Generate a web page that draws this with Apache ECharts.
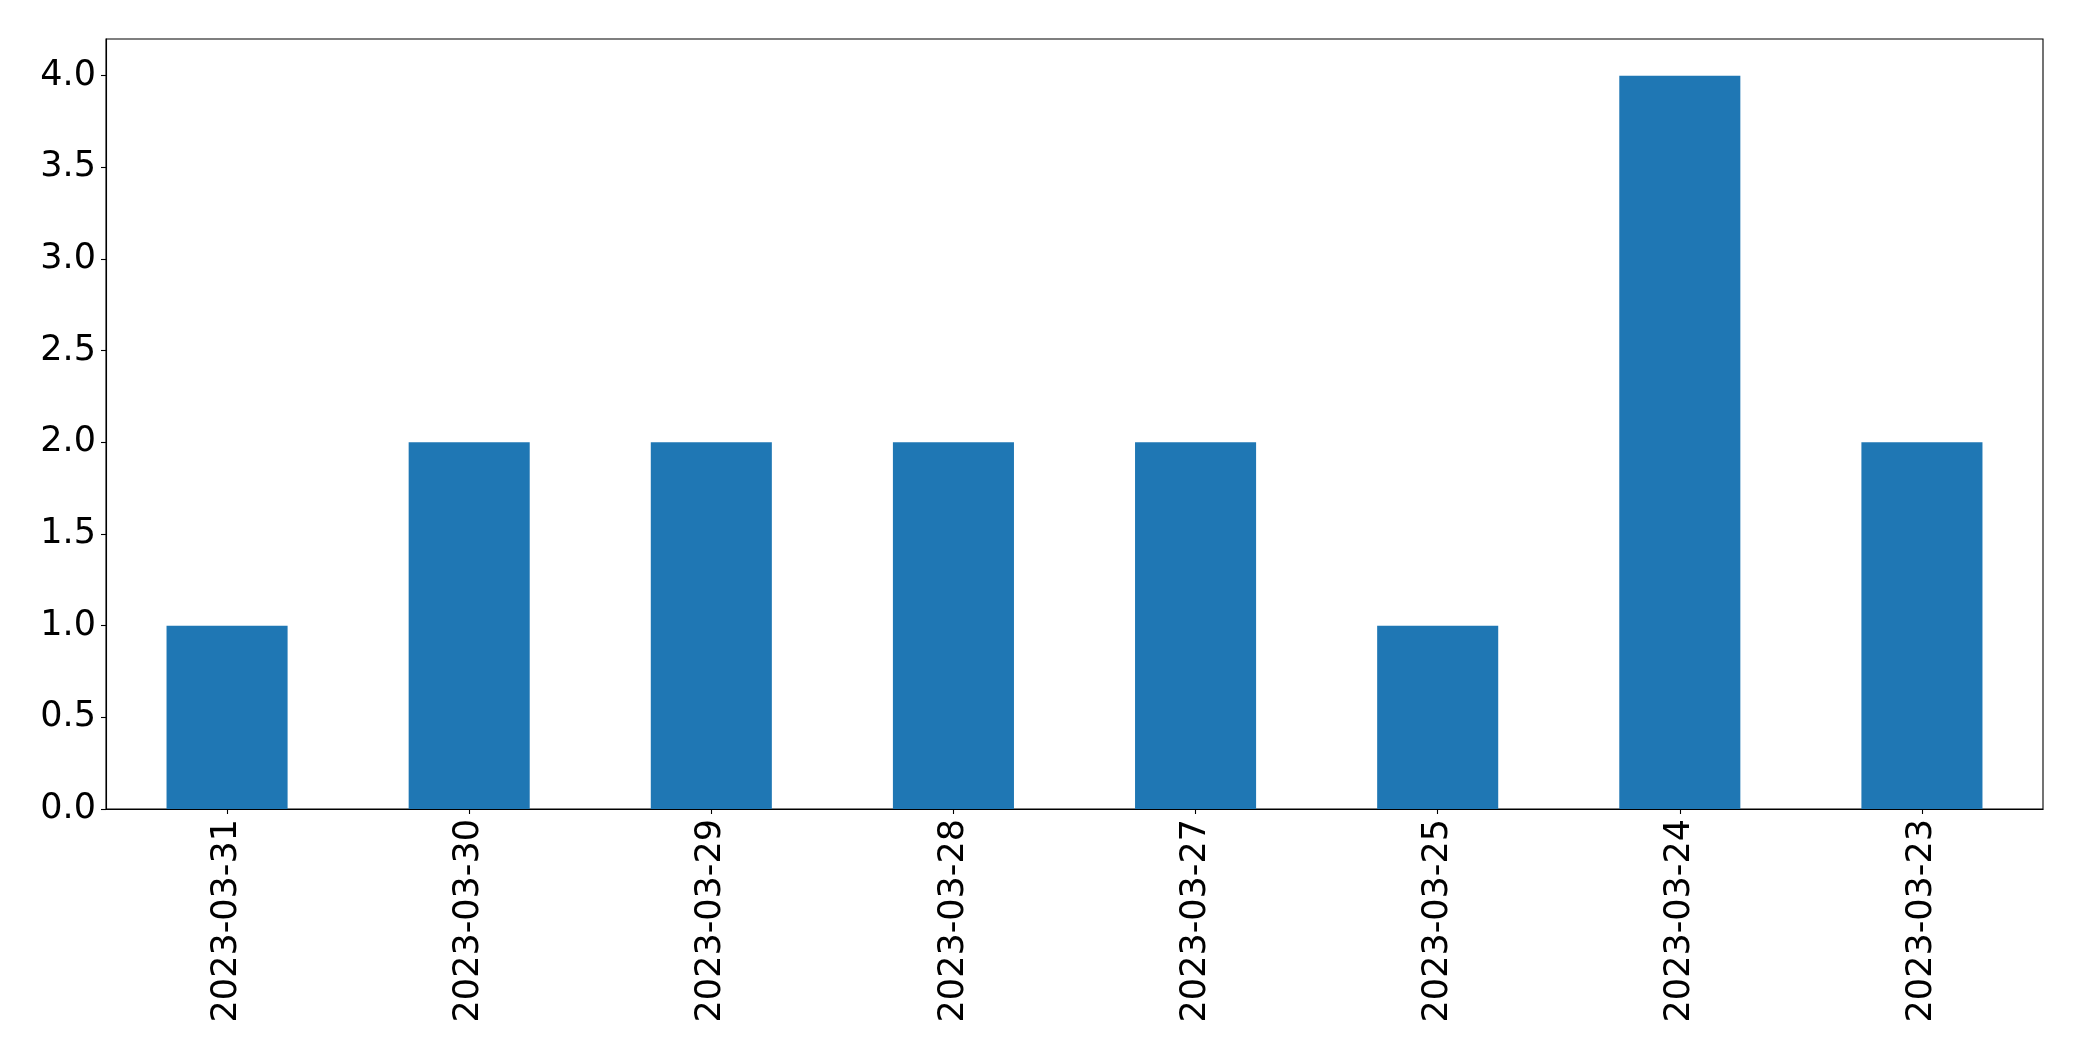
<!DOCTYPE html>
<html>
<head>
<meta charset="utf-8">
<script src="https://cdn.jsdelivr.net/npm/echarts@6/dist/echarts.min.js"></script>
<style>
html,body{margin:0;padding:0;background:#fff;}
#chart{width:2082px;height:1061px;}
</style>
</head>
<body>
<div id="chart"></div>
<script>
const categories = ["2023-03-31","2023-03-30","2023-03-29","2023-03-28","2023-03-27","2023-03-25","2023-03-24","2023-03-23"];
const values = [1,2,2,2,2,1,4,2];
const yTicks = [0,0.5,1,1.5,2,2.5,3,3.5,4];

const chart = echarts.init(document.getElementById('chart'), null, {renderer:'canvas'});
const font = 'DejaVu Sans';
chart.setOption({
  animation:false,
  backgroundColor:'#fff',
  grid:{left:106, top:39, right:39, bottom:252, containLabel:false, show:true, borderColor:'#000', borderWidth:1.1, backgroundColor:'transparent'},
  xAxis:{
    type:'category',
    data:categories,
    axisLine:{show:true, lineStyle:{color:'#000', width:1.1}},
    axisTick:{show:true, alignWithLabel:true, length:5, lineStyle:{color:'#000', width:1.1}},
    axisLabel:{rotate:90, fontFamily:font, fontSize:35, color:'#000', margin:10, interval:0}
  },
  yAxis:{
    type:'value',
    min:0, max:4.2,
    splitLine:{show:false},
    axisLine:{show:true, lineStyle:{color:'#000', width:1.1}},
    axisTick:{show:true, length:5, lineStyle:{color:'#000', width:1.1}, customValues:yTicks},
    axisLabel:{fontFamily:font, fontSize:35, color:'#000', margin:10, customValues:yTicks, formatter:v=>Number(v).toFixed(1)}
  },
  series:[{
    type:'bar',
    data:values,
    barWidth:'50%',
    itemStyle:{color:'#1f77b4'}
  }]
});
</script>
</body>
</html>
